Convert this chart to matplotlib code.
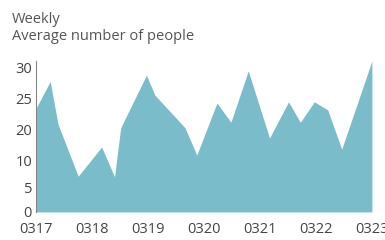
import numpy as np
import matplotlib.pyplot as plt

plt.rcParams['font.family'] = ['Open Sans', 'DejaVu Sans']

# days since 03/17 and the weekly average
days = [0.0, 0.25, 0.39, 0.75, 1.17, 1.40, 1.51, 1.58, 1.97, 2.12, 2.66, 2.87,
        3.23, 3.48, 3.79, 4.17, 4.51, 4.72, 4.97, 5.21, 5.46, 6.0]
people = [23.4, 27.7, 20.8, 7.1, 14.2, 7.0, 20.2, 21.5, 28.7, 25.5, 20.2, 11.6,
          24.2, 21.1, 29.4, 17.1, 24.4, 21.1, 24.4, 23.1, 13.5, 31.0]
x_labels = ['0317', '0318', '0319', '0320', '0321', '0322', '0323']
y_ticks = [0, 5, 10, 20, 25, 30]

# the original axis is spaced unevenly, so use a piecewise scale
scale_vals = [0, 5, 10, 20, 25, 30, 40]
scale_pos = [0, 24, 52, 83, 114, 145, 207]

def fwd(v):
    return np.interp(v, scale_vals, scale_pos)

def inv(p):
    return np.interp(p, scale_pos, scale_vals)

fig = plt.figure(figsize=(3.85, 2.4), dpi=100)
ax = fig.add_axes([0.094, 0.117, 0.872, 0.629])
ax.set_yscale('function', functions=(fwd, inv))

ax.fill_between(days, people, 0, color='#7bbcca', linewidth=0)
ax.set_xlim(0, 6)
ax.set_ylim(0, 31)
ax.set_xticks(range(len(x_labels)))
ax.set_xticklabels(x_labels)
ax.set_yticks(y_ticks)
ax.set_yticklabels([str(t) for t in y_ticks])

for s in ['top', 'right', 'bottom']:
    ax.spines[s].set_visible(False)
ax.spines['left'].set_color('#888888')
ax.spines['left'].set_linewidth(0.8)
ax.tick_params(length=0, labelsize=10.5, colors='#444444', pad=3)
ax.tick_params(axis='x', pad=7)

fig.text(0.03, 0.952, 'Weekly', fontsize=10.5, color='#555555', va='top')
fig.text(0.03, 0.878, 'Average number of people', fontsize=10.5, color='#555555', va='top')

fig.savefig('out.png', dpi=100)
